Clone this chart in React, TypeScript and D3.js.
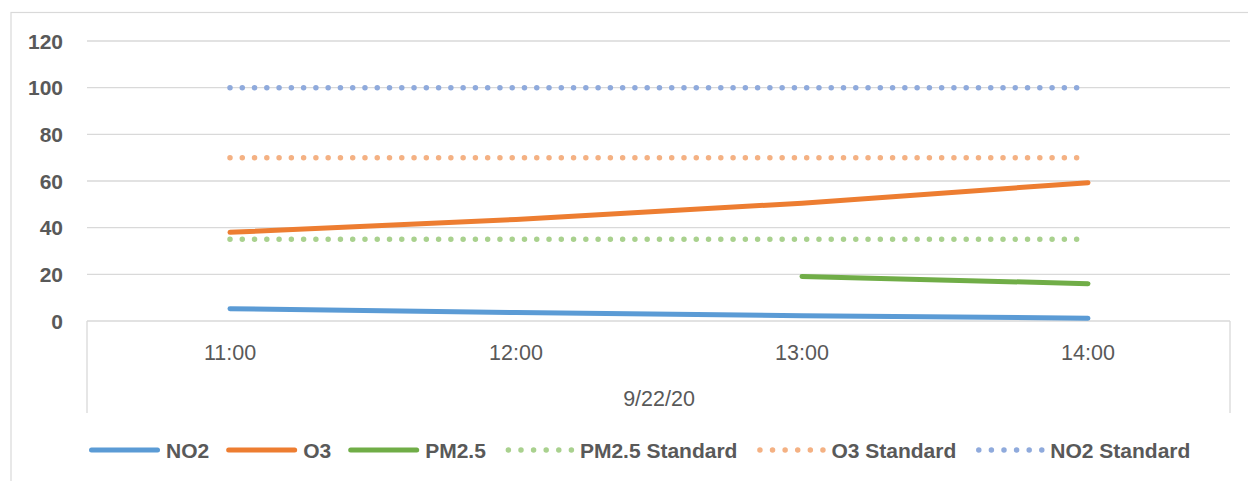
import React from "react";
import * as d3 from "d3";

const categories = ["11:00", "12:00", "13:00", "14:00"];
const groupLabel = "9/22/20";
const yTicks = [0, 20, 40, 60, 80, 100, 120];

const no2 = [5.3, 3.6, 2.3, 1.2];
const o3 = [38, 43.5, 50.5, 59.3];
const pm25: (number | null)[] = [null, null, 19.1, 16];
const pm25Std = [35, 35, 35, 35];
const o3Std = [70, 70, 70, 70];
const no2Std = [100, 100, 100, 100];

const seriesNames = ["NO2", "O3", "PM2.5", "PM2.5 Standard", "O3 Standard", "NO2 Standard"];
const seriesValues = [no2, o3, pm25, pm25Std, o3Std, no2Std];
const seriesColors = ["#5B9BD5", "#ED7D31", "#70AD47", "#A9D18E", "#F4B183", "#8FAADC"];
const seriesDotted = [false, false, false, true, true, true];

const W = 1248;
const H = 481;
const FONT = "'Liberation Sans', Arial, sans-serif";
const TEXT = "#595959";
const GRID = "#D9D9D9";

function measure(text: string, font: string): number {
  const c = document.createElement("canvas");
  const ctx = c.getContext("2d");
  if (!ctx) return text.length * 11;
  ctx.font = font;
  return ctx.measureText(text).width;
}

export default function App() {
  const x = d3.scaleBand<string>().domain(categories).range([87, 1231]).paddingInner(0).paddingOuter(0);
  const cx = (c: string) => (x(c) as number) + x.bandwidth() / 2;
  const y = d3.scaleLinear().domain([0, 120]).range([321, 41]);
  const [x0, x1] = x.range();
  const y0 = y(0);

  const line = d3
    .line<number | null>()
    .defined((d) => d !== null)
    .x((_, i) => cx(categories[i]))
    .y((d) => y(d as number));

  // legend layout
  const legSize = 21;
  const legFont = `bold ${legSize}px ${FONT}`;
  const symW = 70;
  const gapT = 7;
  const gapI = 17;
  let lx = 89;
  const legendItems = seriesNames.map((name, i) => {
    const item = { name, i, x: lx };
    lx += symW + gapT + measure(name, legFont) + gapI;
    return item;
  });
  const legY = 450;

  return (
    <svg
      width={W}
      height={H}
      style={{ position: "absolute", left: 0, top: 0, background: "#fff" }}
    >
      <rect x={11} y={12.5} width={W} height={H} fill="#fff" stroke={GRID} strokeWidth={1.2} />
      {yTicks.map((t) => (
        <line key={t} x1={x0} x2={x1 - 1} y1={y(t)} y2={y(t)} stroke={GRID} strokeWidth={1.3} />
      ))}
      {yTicks.map((t) => (
        <text
          key={"l" + t}
          x={63}
          y={y(t) + 7.6}
          textAnchor="end"
          fontFamily={FONT}
          fontWeight="bold"
          fontSize={21}
          fill={TEXT}
        >
          {t}
        </text>
      ))}
      <line x1={x0} x2={x0} y1={y0} y2={413} stroke={GRID} strokeWidth={1.3} />
      <line x1={x1 - 1} x2={x1 - 1} y1={y0} y2={413} stroke={GRID} strokeWidth={1.3} />
      {categories.map((c) => (
        <text
          key={c}
          x={cx(c)}
          y={359.5}
          textAnchor="middle"
          fontFamily={FONT}
          fontSize={21.5}
          fill={TEXT}
        >
          {c}
        </text>
      ))}
      <text x={(x0 + x1) / 2} y={406} textAnchor="middle" fontFamily={FONT} fontSize={21.5} fill={TEXT}>
        {groupLabel}
      </text>
      {[3, 4, 5, 0, 1, 2].map((i) => (
        <path
          key={seriesNames[i]}
          d={line(seriesValues[i]) || ""}
          fill="none"
          stroke={seriesColors[i]}
          strokeWidth={seriesDotted[i] ? 5.5 : 5}
          strokeLinecap="round"
          strokeLinejoin="round"
          strokeDasharray={seriesDotted[i] ? "0 12.27" : undefined}
        />
      ))}
      {legendItems.map((it) => (
        <g key={it.name}>
          {seriesDotted[it.i] ? (
            <line
              x1={it.x + 5.5}
              x2={it.x + 70}
              y1={legY}
              y2={legY}
              stroke={seriesColors[it.i]}
              strokeWidth={5.5}
              strokeLinecap="round"
              strokeDasharray="0 12.6"
            />
          ) : (
            <line
              x1={it.x + 2.5}
              x2={it.x + 68.5}
              y1={legY}
              y2={legY}
              stroke={seriesColors[it.i]}
              strokeWidth={5}
              strokeLinecap="round"
            />
          )}
          <text
            x={it.x + symW + gapT}
            y={legY + 7.5}
            fontFamily={FONT}
            fontWeight="bold"
            fontSize={legSize}
            fill={TEXT}
          >
            {it.name}
          </text>
        </g>
      ))}
    </svg>
  );
}
